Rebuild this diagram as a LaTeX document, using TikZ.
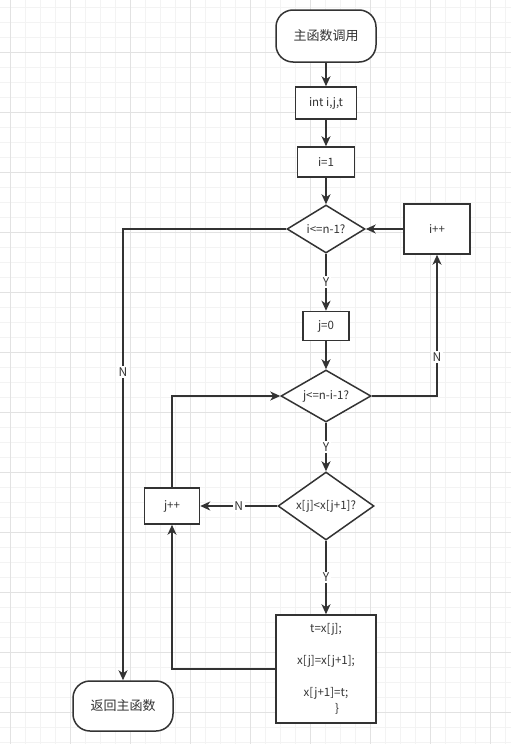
\documentclass[tikz,border=0pt]{standalone}
\usepackage{fontspec}
\setmainfont{Noto Sans CJK SC}
\usetikzlibrary{shapes.geometric,arrows.meta}
\definecolor{linec}{HTML}{333333}
\definecolor{textc}{HTML}{333333}
\definecolor{gridminor}{HTML}{F3F3F3}
\definecolor{gridmajor}{HTML}{E2E2E2}
\begin{document}
\begin{tikzpicture}[x=1pt,y=-1pt,
  base/.style={draw=linec, line width=1.5pt, fill=white, inner sep=0pt, text=textc, font=\fontsize{11.5}{16}\selectfont},
  box/.style={base, rectangle},
  term/.style={base, rectangle, rounded corners=17pt, font=\fontsize{13}{16}\selectfont},
  dia/.style={base, diamond, aspect=1},
  conn/.style={draw=linec, line width=1.5pt, -{Stealth[length=10pt,width=9pt,inset=3pt]}},
  lab/.style={fill=white, inner sep=1.5pt, text=textc, font=\fontsize{12}{14}\selectfont}
]
\useasboundingbox (0,0) rectangle (511,744);
\fill[white] (0,0) rectangle (511,744);
\foreach \x in {10,25,...,505} \draw[gridminor, line width=0.8pt] (\x,0) -- (\x,744);
\foreach \y in {7,22,...,742} \draw[gridminor, line width=0.8pt] (0,\y) -- (511,\y);
\foreach \x in {10,70,...,490} \draw[gridmajor, line width=0.8pt] (\x,0) -- (\x,744);
\foreach \y in {52,112,...,712} \draw[gridmajor, line width=0.8pt] (0,\y) -- (511,\y);

\node[term, minimum width=100pt, minimum height=52pt] (start) at (326,36) {主函数调用};
\node[box, minimum width=61pt, minimum height=32pt] (int) at (326,103) {int i,j,t};
\node[box, minimum width=57pt, minimum height=30pt] (i1) at (326,162) {i=1};
\node[dia, minimum width=78pt, minimum height=48pt] (d1) at (326,229) {\makebox[0pt]{i<=n-1?}};
\node[box, minimum width=66pt, minimum height=50pt] (ipp) at (437,229) {i++};
\node[box, minimum width=46pt, minimum height=29pt] (j0) at (326,326) {j=0};
\node[dia, minimum width=90pt, minimum height=52pt] (d2) at (326,396) {\makebox[0pt]{j<=n-i-1?}};
\node[dia, minimum width=96pt, minimum height=68pt] (d3) at (326,506) {\makebox[0pt]{x[j]<x[j+1]?}};
\node[box, minimum width=55pt, minimum height=36pt] (jpp) at (172,506) {j++};
\node[box, minimum width=100pt, minimum height=108pt, align=center] (swap) at (326,669)
  {t=x[j];\\[16pt]x[j]=x[j+1];\\[16pt]x[j+1]=t;\\\hspace*{22pt}\}};
\node[term, minimum width=100pt, minimum height=50pt] (ret) at (123,706) {返回主函数};

\draw[conn] (start) -- (int);
\draw[conn] (int) -- (i1);
\draw[conn] (i1) -- (d1);
\draw[conn] (ipp.west) -- (d1.east);
\draw[conn] (d1.south) -- node[lab, pos=0.5] {Y} (j0.north);
\draw[conn] (d1.west) -| node[lab, pos=0.658] {N} (ret.north);
\draw[conn] (j0) -- (d2);
\draw[conn] (d2.east) -| node[lab, pos=0.637] {N} (ipp.south);
\draw[conn] (d2.south) -- node[lab, pos=0.5] {Y} (d3.north);
\draw[conn] (d3.west) -- node[lab, pos=0.5] {N} (jpp.east);
\draw[conn] (jpp.north) |- (d2.west);
\draw[conn] (d3.south) -- node[lab, pos=0.5] {Y} (swap.north);
\draw[conn] (swap.west) -| (jpp.south);
\end{tikzpicture}
\end{document}
